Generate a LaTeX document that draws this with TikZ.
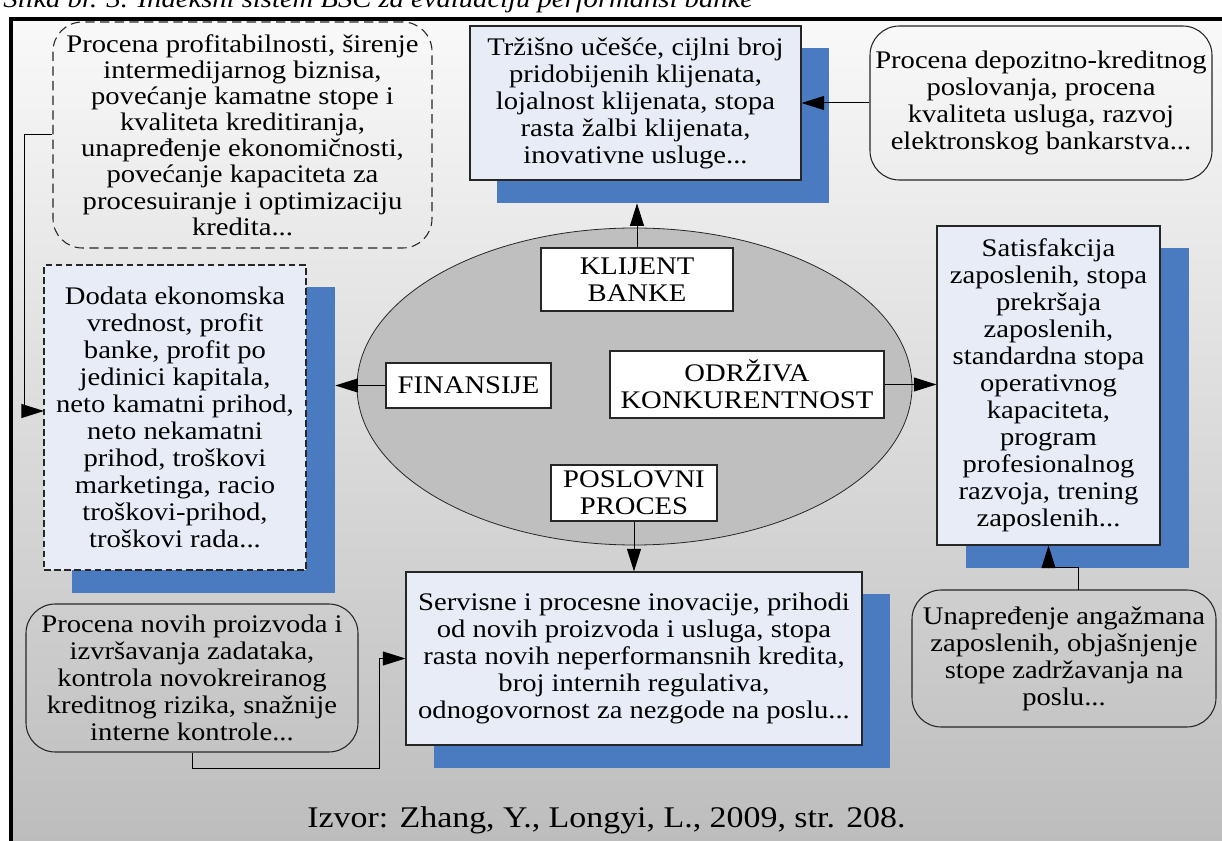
\documentclass[tikz,border=0pt]{standalone}
\usepackage{fontspec}
\setmainfont{Liberation Serif}
\usetikzlibrary{arrows.meta,shapes.geometric,fit}

\definecolor{panelfill}{HTML}{E7ECF7}
\definecolor{panelshadow}{HTML}{4A7BC1}
\definecolor{corefill}{HTML}{BFBFBF}
\definecolor{bgtop}{HTML}{F9F9F9}
\definecolor{bgbottom}{HTML}{BDBDBD}
\definecolor{edge}{HTML}{262626}

\begin{document}
\begin{tikzpicture}[x=0.75pt,y=-0.75pt,
  every node/.style={inner sep=0pt},
  txt/.style={font=\fontsize{19}{20.25}\selectfont, align=center, xscale=1.13, transform shape},
  panel/.style={draw=edge, line width=0.8pt, fill=panelfill},
  panelshade/.style={fill=panelshadow},
  dashpanel/.style={panel, dash pattern=on 5pt off 2.6pt},
  roundbox/.style={draw=edge, line width=0.8pt, rounded corners=22pt},
  dashround/.style={roundbox, dash pattern=on 7pt off 4pt},
  tagbox/.style={draw=edge, line width=0.8pt, fill=white},
  link/.style={draw=black, line width=0.75pt},
  arr/.style={link, -{Triangle[length=17pt,width=10.5pt]}},
]
\useasboundingbox (0,0) rectangle (1222,841);

% page background and frame
\shade[top color=bgtop, bottom color=bgbottom] (11,19) rectangle (1222,841);
\draw[line width=2.3pt] (11,841) -- (11,19) -- (1222,19);

% figure title (cut by the top of the page)
\node[txt, anchor=base west, font=\itshape\fontsize{19}{20}\selectfont] (title) at (3,8)
  {Slika br. 3. Indeksni sistem BSC za evaluaciju performansi banke};

% drop shadows of the four perspective panels
\node[panelshade, fit={(497,48) (829,203)}] (tcs) {};
\node[panelshade, fit={(72,287) (335,593)}] (fds) {};
\node[panelshade, fit={(966,248) (1189,568)}] (sats) {};
\node[panelshade, fit={(434,594) (890,768)}] (srvs) {};

% perspective panels
\node[panel, fit={(470,26) (801,180)}] (tc) {};
\node[txt] (tct) at (tc.center)
  {Tržišno učešće, cijlni broj\\ pridobijenih klijenata,\\ lojalnost klijenata, stopa\\ rasta žalbi klijenata,\\ inovativne usluge...};
\node[dashpanel, fit={(44,265) (306,570)}] (fd) {};
\node[txt] (fdt) at (fd.center)
  {Dodata ekonomska\\ vrednost, profit\\ banke, profit po\\ jedinici kapitala,\\ neto kamatni prihod,\\ neto nekamatni\\ prihod, troškovi\\ marketinga, racio\\ troškovi-prihod,\\ troškovi rada...};
\node[panel, fit={(937,226) (1160,545)}] (sat) {};
\node[txt] (satt) at (sat.center)
  {Satisfakcija\\ zaposlenih, stopa\\ prekršaja\\ zaposlenih,\\ standardna stopa\\ operativnog\\ kapaciteta,\\ program\\ profesionalnog\\ razvoja, trening\\ zaposlenih...};
\node[panel, fit={(406,572) (862,745)}] (srv) {};
\node[txt] (srvt) at (srv.center)
  {Servisne i procesne inovacije, prihodi\\ od novih proizvoda i usluga, stopa\\ rasta novih neperformansnih kredita,\\ broj internih regulativa,\\ odnogovornost za nezgode na poslu...};

% rounded note boxes
\node[dashround, fit={(53,22) (432,248)}] (pf) {};
\node[txt, font=\fontsize{19}{19.6}\selectfont] (pft) at (pf.center)
  {Procena profitabilnosti, širenje\\ intermedijarnog biznisa,\\ povećanje kamatne stope i\\ kvaliteta kreditiranja,\\ unapređenje ekonomičnosti,\\ povećanje kapaciteta za\\ procesuiranje i optimizaciju\\ kredita...};
\node[roundbox, fit={(870,26) (1212,180)}] (tr) {};
\node[txt] (trt) at (tr.center)
  {Procena depozitno-kreditnog\\ poslovanja, procena\\ kvaliteta usluga, razvoj\\ elektronskog bankarstva...};
\node[roundbox, fit={(912,590) (1216,727)}] (un) {};
\node[txt] (unt) at (un.center)
  {Unapređenje angažmana\\ zaposlenih, objašnjenje\\ stope zadržavanja na\\ poslu...};
\node[roundbox, fit={(26,604) (358,752)}] (pn) {};
\node[txt] (pnt) at (pn.center)
  {Procena novih proizvoda i\\ izvršavanja zadataka,\\ kontrola novokreiranog\\ kreditnog rizika, snažnije\\ interne kontrole...};

% central ellipse with the four perspectives
\node[ellipse, draw=edge, line width=0.6pt, fill=corefill,
      minimum width=416.25pt, minimum height=237.75pt] (core) at (634.5,386.5) {};
\node[tagbox, fit={(541,248) (733,311)}] (kb) {};
\node[txt] (kbt) at (kb.center) {KLIJENT\\ BANKE};
\node[tagbox, fit={(386,363) (551,408)}] (fin) {};
\node[txt] (fint) at (fin.center) {FINANSIJE};
\node[tagbox, fit={(610,351) (884,418)}] (ok) {};
\node[txt] (okt) at (ok.center) {ODRŽIVA\\ KONKURENTNOST};
\node[tagbox, fit={(551,465) (717,521)}] (pp) {};
\node[txt] (ppt) at (pp.center) {POSLOVNI\\ PROCES};

% connectors
\draw[arr] (kb.north) -- (kb.north |- tcs.south);
\draw[arr] (fin.west) -- (fin.west -| fds.east);
\draw[arr] (ok.east) -- (ok.east -| sat.west);
\draw[arr] (pp.south) -- (pp.south |- srv.north);
\draw[arr] (tr.west) -- (tc.east);

\coordinate (pfbend) at (24,135);
\coordinate (fdin) at (44,411);
\draw[arr] (pf.west) -- (pfbend) |- (fdin);

\coordinate (pnbend) at (379,768);
\draw[arr] (pn.south) |- (pnbend) |- (srv.west);

\coordinate (unout) at (1078,590);
\coordinate (unbend) at (1078,568);
\draw[arr] (unout) -- (unbend) -| (sat.south);

% source line
\node[txt, anchor=base, font=\fontsize{22.5}{24}\selectfont] (src) at (606.5,827)
  {Izvor: Zhang, Y., Longyi, L., 2009, str. 208.};
\end{tikzpicture}
\end{document}
